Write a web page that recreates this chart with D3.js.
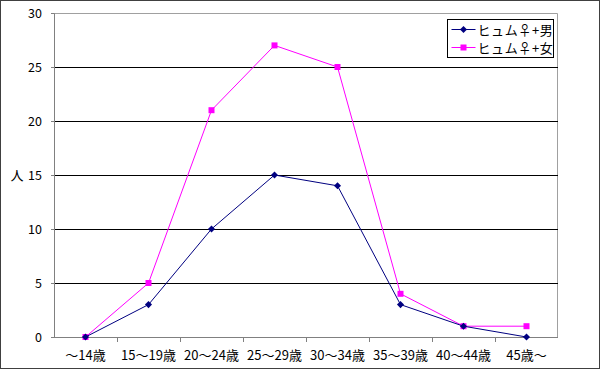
<!DOCTYPE html>
<html>
<head>
<meta charset="utf-8">
<script src="https://cdn.jsdelivr.net/npm/d3@7"></script>
<style>
  body { margin: 0; background: #fff; }
  text { font-family: "Noto Sans CJK JP", sans-serif; font-size: 12px; fill: #000; }
</style>
</head>
<body>
<div id="chart"></div>
<script>
// Data
var categories = ["～14歳", "15～19歳", "20～24歳", "25～29歳", "30～34歳", "35～39歳", "40～44歳", "45歳～"];
var maleValues = [0, 3, 10, 15, 14, 3, 1, 0];
var femaleValues = [0, 5, 21, 27, 25, 4, 1, 1];
var yTicks = [0, 5, 10, 15, 20, 25, 30];
var seriesNames = ["ヒュム♀+男", "ヒュム♀+女"];

var svgWidth = 600;
var svgHeight = 369;

var margin = { top: 13, bottom: 32, left: 54, right: 42 };
var width = svgWidth - margin.left - margin.right;
var height = svgHeight - margin.top - margin.bottom;

var svg = d3.select("#chart")
    .append("svg")
    .attr("width", svgWidth)
    .attr("height", svgHeight);

// outer border
svg.append("rect")
    .attr("x", 0.5).attr("y", 0.5)
    .attr("width", svgWidth - 1).attr("height", svgHeight - 1)
    .attr("fill", "#fff")
    .attr("stroke", "#404040");

var chartGroup = svg.append("g")
    .attr("transform", `translate(${margin.left}, ${margin.top})`);

var xScale = d3.scaleBand().domain(categories).range([0, width]);
var yScale = d3.scaleLinear().domain([0, 30]).range([height, 0]);

// plot frame (top/right)
chartGroup.append("path")
    .attr("d", `M0,0.5H${width - 0.5}V${height}`)
    .attr("fill", "none")
    .attr("stroke", "#a0a0a0");

// gridlines
chartGroup.selectAll(".grid")
    .data(yTicks.filter(d => d > 0 && d < 30))
    .enter()
    .append("line")
    .attr("x1", 0).attr("x2", width)
    .attr("y1", d => Math.round(yScale(d)) + 0.5)
    .attr("y2", d => Math.round(yScale(d)) + 0.5)
    .attr("stroke", "#000");

// y axis
var leftAxis = d3.axisLeft(yScale).tickValues(yTicks).tickSize(3).tickPadding(9);
var yAxis = chartGroup.append("g").call(leftAxis);
yAxis.select(".domain").attr("stroke", "#808080");
yAxis.selectAll(".tick line").attr("stroke", "#808080");
yAxis.selectAll("text").style("font-size", "12.5px").style("font-family", "'Noto Sans CJK JP', sans-serif");

// x axis with ticks at category boundaries
var xAxisG = chartGroup.append("g").attr("transform", `translate(0, ${height})`);
xAxisG.append("line")
    .attr("x1", 0).attr("x2", width)
    .attr("y1", 0.5).attr("y2", 0.5)
    .attr("stroke", "#808080");
xAxisG.selectAll(".xtick")
    .data(categories.slice(1))
    .enter()
    .append("line")
    .attr("x1", d => Math.round(xScale(d)) + 0.5)
    .attr("x2", d => Math.round(xScale(d)) + 0.5)
    .attr("y1", 0).attr("y2", 5)
    .attr("stroke", "#808080");
xAxisG.selectAll(".xlabel")
    .data(categories)
    .enter()
    .append("text")
    .attr("x", d => xScale(d) + xScale.bandwidth() / 2)
    .attr("y", 23)
    .attr("text-anchor", "middle")
    .style("font-size", "13px")
    .text(d => d);

// y label
svg.append("text")
    .attr("x", 17)
    .attr("y", margin.top + yScale(15) + 5)
    .attr("text-anchor", "middle")
    .style("font-size", "13px")
    .text("人");

var line = d3.line()
    .x((d, i) => xScale(categories[i]) + xScale.bandwidth() / 2)
    .y(d => yScale(d));

// female series
chartGroup.append("path")
    .datum(femaleValues)
    .attr("d", line)
    .attr("fill", "none")
    .attr("stroke", "#ff00ff")
    .attr("stroke-width", 1);

chartGroup.selectAll(".fpt")
    .data(femaleValues)
    .enter()
    .append("rect")
    .attr("x", (d, i) => xScale(categories[i]) + xScale.bandwidth() / 2 - 3)
    .attr("y", d => yScale(d) - 3)
    .attr("width", 6).attr("height", 6)
    .attr("fill", "#ff00ff");

// male series
chartGroup.append("path")
    .datum(maleValues)
    .attr("d", line)
    .attr("fill", "none")
    .attr("stroke", "#000080")
    .attr("stroke-width", 1);

var diamond = d3.symbol().type(d3.symbolDiamond2).size(32);

chartGroup.selectAll(".mpt")
    .data(maleValues)
    .enter()
    .append("path")
    .attr("d", diamond)
    .attr("transform", (d, i) => `translate(${xScale(categories[i]) + xScale.bandwidth() / 2}, ${yScale(d)})`)
    .attr("fill", "#000080");

// legend
var legend = svg.append("g").attr("transform", "translate(447.5, 19.5)");
legend.append("rect")
    .attr("width", 106).attr("height", 38)
    .attr("fill", "#fff")
    .attr("stroke", "#000");

var legendColors = ["#000080", "#ff00ff"];
seriesNames.forEach(function (name, i) {
    var ly = 10 + i * 18;
    legend.append("line")
        .attr("x1", 4).attr("x2", 28)
        .attr("y1", ly).attr("y2", ly)
        .attr("stroke", legendColors[i]);
    if (i === 0) {
        legend.append("path")
            .attr("d", diamond)
            .attr("transform", `translate(16, ${ly})`)
            .attr("fill", legendColors[i]);
    } else {
        legend.append("rect")
            .attr("x", 13).attr("y", ly - 3)
            .attr("width", 6).attr("height", 6)
            .attr("fill", legendColors[i]);
    }
    legend.append("text")
        .attr("x", 30)
        .attr("y", ly + 5)
        .style("font-size", "13px")
        .style("letter-spacing", "0.6px")
        .text(name);
});
</script>
</body>
</html>
